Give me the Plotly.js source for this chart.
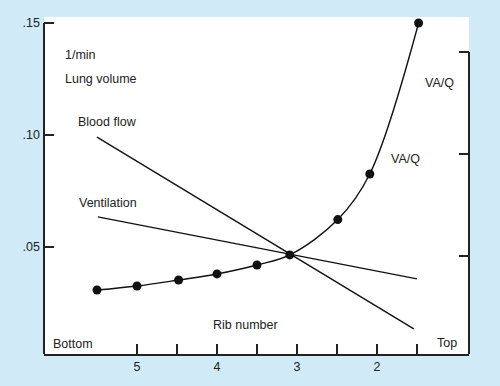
<!DOCTYPE html>
<html>
<head>
<meta charset="utf-8">
<script src="https://cdn.plot.ly/plotly-3.0.1.min.js"></script>
<style>html,body{margin:0;padding:0;background:#d0eaf8;}#chart{width:500px;height:386px;}</style>
</head>
<body>
<div id="chart"></div>
<script>
// Rib number (x) values, reversed axis (bottom of lung on left)
const vaqRib = [5.5, 5, 4.48, 4, 3.5, 3.09, 2.49, 2.09, 1.48];
const vaqVal = [0.0306, 0.0324, 0.0351, 0.0378, 0.0418, 0.0463, 0.0621, 0.0825, 0.150];
const bloodRib = [5.5, 1.54];
const bloodVal = [0.099, 0.0132];
const ventRib = [5.49, 1.5];
const ventVal = [0.0633, 0.0356];

const xTickVals = [5, 4.5, 4, 3.5, 3, 2.5, 2, 1.5];
const xTickText = ['5', '', '4', '', '3', '', '2', ''];
const yTickVals = [0.05, 0.10, 0.15];
const yTickText = ['.05', '.10', '.15'];
const y2TickVals = [1, 2, 3];

const labels = [
  {text: '1/min', x: 5.92, y: 0.1357},
  {text: 'Lung volume', x: 5.92, y: 0.125},
  {text: 'Blood flow', x: 5.76, y: 0.1058},
  {text: 'Ventilation', x: 5.75, y: 0.0695},
  {text: 'Bottom', x: 6.07, y: 0.0065},
  {text: 'Top', x: 1.27, y: 0.0070},
  {text: 'VA/Q', x: 1.42, y: 0.1232},
  {text: 'VA/Q', x: 1.845, y: 0.0892}
];
const centerLabels = [
  {text: 'Rib number', x: 3.65, y: 0.015}
];

const FONT = 'Liberation Sans, Arial, sans-serif';
const TXT = '#222';
const AX = '#222';
const yRange = [0.002, 0.1527];
const y2Range = [0.039, 3.343];

const traces = [
  {x: bloodRib, y: bloodVal, mode: 'lines', line: {color: '#111', width: 1.4}, hoverinfo: 'skip'},
  {x: ventRib, y: ventVal, mode: 'lines', line: {color: '#111', width: 1.4}, hoverinfo: 'skip'},
  {x: vaqRib, y: vaqVal, mode: 'lines+markers', line: {color: '#111', width: 1.4, shape: 'spline', smoothing: 1},
   marker: {color: '#111', size: 9}, cliponaxis: false, hoverinfo: 'skip'},
  {x: [vaqRib[0]], y: [y2TickVals[0]], yaxis: 'y2', mode: 'markers', marker: {opacity: 0}, hoverinfo: 'skip'}
];

const annotations = labels.map(l => ({
  text: l.text, x: l.x, y: l.y, xref: 'x', yref: 'y', xanchor: 'left', yanchor: 'middle',
  showarrow: false, font: {family: FONT, size: 12.5, color: TXT}
})).concat(centerLabels.map(l => ({
  text: l.text, x: l.x, y: l.y, xref: 'x', yref: 'y', xanchor: 'center', yanchor: 'middle',
  showarrow: false, font: {family: FONT, size: 12.5, color: TXT}
})));

const layout = {
  width: 500, height: 386,
  margin: {l: 44, r: 31, t: 17, b: 32, pad: 0},
  paper_bgcolor: '#d0eaf8',
  plot_bgcolor: '#ffffff',
  showlegend: false,
  font: {family: FONT, size: 12.5, color: TXT},
  xaxis: {
    range: [6.1625, 0.85], showgrid: false, zeroline: false,
    showline: true, linecolor: AX, linewidth: 2,
    tickmode: 'array', tickvals: xTickVals, ticktext: xTickText,
    ticks: 'inside', ticklen: 10, tickwidth: 1.5, tickcolor: AX,
    tickfont: {family: FONT, size: 12.5, color: TXT}
  },
  yaxis: {
    range: yRange, showgrid: false, zeroline: false, showline: false,
    tickmode: 'array', tickvals: yTickVals, ticktext: yTickText,
    ticks: 'inside', ticklen: 10, tickwidth: 2, tickcolor: AX,
    ticklabelstandoff: 3,
    tickfont: {family: FONT, size: 12.5, color: TXT}
  },
  yaxis2: {
    overlaying: 'y', side: 'right', range: y2Range,
    showgrid: false, zeroline: false, showline: false,
    tickmode: 'array', tickvals: y2TickVals, showticklabels: false,
    ticks: 'inside', ticklen: 10, tickwidth: 2, tickcolor: AX
  },
  shapes: [
    {type: 'line', xref: 'paper', yref: 'y', x0: 0, x1: 0, y0: yRange[0], y1: Math.max(...yTickVals),
     line: {color: AX, width: 2}},
    {type: 'line', xref: 'paper', yref: 'y2', x0: 1, x1: 1, y0: y2Range[0], y1: Math.max(...y2TickVals),
     line: {color: AX, width: 2}}
  ],
  annotations: annotations
};

Plotly.newPlot('chart', traces, layout, {displayModeBar: false, staticPlot: true});
</script>
</body>
</html>
